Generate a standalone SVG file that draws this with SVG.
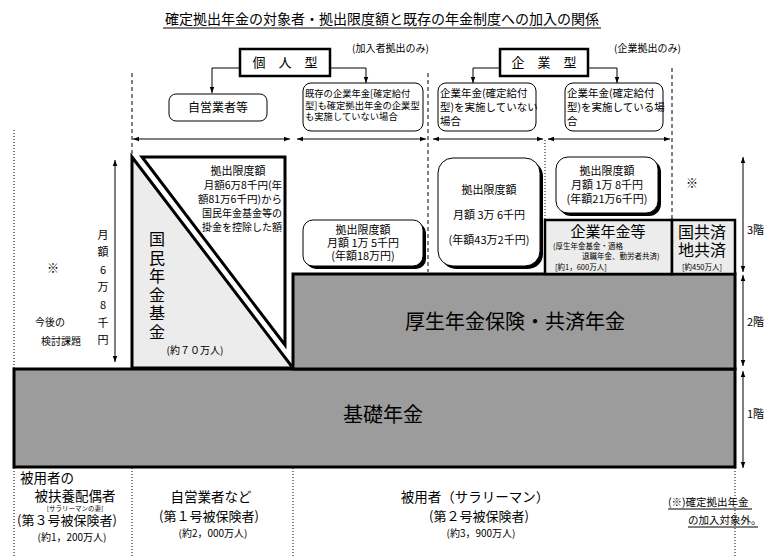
<svg xmlns="http://www.w3.org/2000/svg" width="767" height="557" viewBox="0 0 767 557">
<style>
text{font-family:"Noto Sans CJK JP","Noto Sans",sans-serif;fill:#000}
.c{text-anchor:middle}
.r{text-anchor:end}
.v{writing-mode:vertical-rl;text-orientation:upright}
.thin{fill:none;stroke:#000;stroke-width:1}
.dash{stroke:#000;stroke-width:1;stroke-dasharray:4,3;fill:none}
.dot{stroke:#000;stroke-width:1;stroke-dasharray:1,2;fill:none}
.arr{stroke:#000;stroke-width:1;fill:none;marker-end:url(#ah);marker-start:url(#ahs)}
.one{stroke:#000;stroke-width:1;fill:none;marker-end:url(#ah)}
.dark{fill:#9c9c9c;stroke:#000;stroke-width:3}
.light{fill:#ececec;stroke:#000;stroke-width:2.5}
.rb{fill:#fff;stroke:#000;stroke-width:1}
</style>
<defs>
<marker id="ah" viewBox="0 0 8 8" refX="8" refY="4" markerWidth="6" markerHeight="6" orient="auto" markerUnits="userSpaceOnUse"><path d="M0,1 L8,4 L0,7 Z" fill="#000"/></marker>
<marker id="ahs" viewBox="0 0 8 8" refX="0" refY="4" markerWidth="6" markerHeight="6" orient="auto" markerUnits="userSpaceOnUse"><path d="M8,1 L0,4 L8,7 Z" fill="#000"/></marker>
</defs>
<rect width="767" height="557" fill="#fff"/>

<g id="title">
<text x="382" y="24" class="c" font-size="14">確定拠出年金の対象者・拠出限度額と既存の年金制度への加入の関係</text>
<line x1="163" y1="28" x2="601" y2="28" stroke="#000" stroke-width="1"/>
</g>

<g id="guides">
<line class="dash" x1="132" y1="73" x2="132" y2="157"/>
<line class="dash" x1="428" y1="73" x2="428" y2="272"/>
<line class="dash" x1="672" y1="68" x2="672" y2="220"/>
<line class="dot" x1="545" y1="140" x2="545" y2="220"/>
<line class="dot" x1="14" y1="130" x2="14" y2="368"/>
<line class="dot" x1="14" y1="468" x2="14" y2="557"/>
<line class="dot" x1="132" y1="468" x2="132" y2="557"/>
<line class="dot" x1="293" y1="468" x2="293" y2="557"/>
<line class="dot" x1="735" y1="468" x2="735" y2="557"/>
</g>

<g id="kojin">
<rect x="240" y="49" width="90" height="27" fill="#fff" stroke="#000" stroke-width="2.5"/>
<text x="285" y="67" class="c" font-size="13">個　人　型</text>
</g>
<text x="352" y="52" font-size="10">(加入者拠出のみ)</text>
<g id="kigyo">
<rect x="500" y="49" width="88" height="27" fill="#fff" stroke="#000" stroke-width="2.5"/>
<text x="544" y="67" class="c" font-size="13">企　業　型</text>
</g>
<text x="614" y="52" font-size="10">(企業拠出のみ)</text>

<g id="jieigyo">
<rect class="rb" x="169" y="94" width="98" height="27" rx="7"/>
<text x="218" y="112" class="c" font-size="12">自営業者等</text>
</g>
<g id="kizon">
<rect class="rb" x="303" y="83" width="120" height="48" rx="8"/>
<text x="305" y="97" font-size="9.3">既存の企業年金[確定給付</text>
<text x="305" y="109" font-size="9.3">型]も確定拠出年金の企業型</text>
<text x="305" y="120" font-size="9.3">も実施していない場合</text>
</g>
<g id="nashi">
<rect class="rb" x="438" y="83" width="98" height="48" rx="8"/>
<text x="440" y="97" font-size="10.5">企業年金(確定給付</text>
<text x="440" y="111" font-size="10.5">型)を実施していない</text>
<text x="440" y="125" font-size="10.5">場合</text>
</g>
<g id="ari">
<rect class="rb" x="565" y="83" width="98" height="48" rx="8"/>
<text x="567" y="97" font-size="10.5">企業年金(確定給付</text>
<text x="567" y="111" font-size="10.5">型)を実施している場</text>
<text x="567" y="125" font-size="10.5">合</text>
</g>

<g id="left-note">
<text x="53" y="273" class="c" font-size="12">※</text>
<text x="50" y="326" class="c" font-size="10">今後の</text>
<text x="61" y="345" class="c" font-size="10">検討課題</text>
<text x="103" y="229" class="v" font-size="11" letter-spacing="6.6">月額6万8千円</text>
</g>

<g id="kokumin-kikin">
<polygon points="132,157 132,368 293,368" fill="#ececec" stroke="#000" stroke-width="3" stroke-linejoin="miter"/>
<text x="157" y="231" class="v" font-size="16" letter-spacing="2.5">国民年金基金</text>
<text x="195" y="354" class="c" font-size="10">(約７０万人)</text>
</g>
<g id="kojin-gendo">
<polygon points="142,157 285,157 285,345" fill="#fff" stroke="#000" stroke-width="3"/>
<text x="238" y="175" class="c" font-size="11">拠出限度額</text>
<text x="282" y="189" class="r" font-size="10.5">月額6万8千円(年</text>
<text x="282" y="203" class="r" font-size="10.5">額81万6千円)から</text>
<text x="282" y="217" class="r" font-size="10">国民年金基金等の</text>
<text x="282" y="231" class="r" font-size="10">掛金を控除した額</text>
</g>

<g id="gendo15">
<rect x="306" y="223" width="120" height="46" rx="10" fill="#000"/>
<rect class="rb" x="303" y="220" width="120" height="46" rx="10"/>
<text x="363" y="234" class="c" font-size="11">拠出限度額</text>
<text x="363" y="247" class="c" font-size="11">月額 1万 5千円</text>
<text x="363" y="260" class="c" font-size="11">(年額18万円)</text>
</g>
<g id="gendo36">
<rect x="441" y="161" width="102" height="108" rx="15" fill="#000"/>
<rect class="rb" x="438" y="158" width="102" height="108" rx="15"/>
<text x="489" y="194" class="c" font-size="11">拠出限度額</text>
<text x="489" y="219" class="c" font-size="11">月額 3万 6千円</text>
<text x="489" y="244" class="c" font-size="11">(年額43万2千円)</text>
</g>
<g id="gendo18">
<rect x="559" y="160" width="102" height="56" rx="12" fill="#000"/>
<rect class="rb" x="556" y="157" width="102" height="56" rx="12"/>
<text x="607" y="175" class="c" font-size="11">拠出限度額</text>
<text x="607" y="189" class="c" font-size="11">月額 1万 8千円</text>
<text x="607" y="203" class="c" font-size="11">(年額21万6千円)</text>
</g>
<text x="692" y="188" class="c" font-size="12">※</text>

<g id="kiso">
<rect class="dark" x="14" y="369" width="721" height="98"/>
<text x="383" y="422" class="c" font-size="20">基礎年金</text>
</g>
<g id="kosei">
<rect class="dark" x="293" y="274" width="442" height="95"/>
<text x="515" y="329" class="c" font-size="20">厚生年金保険・共済年金</text>
</g>
<g id="kigyo-nenkin">
<rect class="light" x="545" y="220" width="127" height="54"/>
<text x="608" y="237" class="c" font-size="15">企業年金等</text>
<text x="553" y="249" font-size="7.5">(厚生年金基金・適格</text>
<text x="582" y="259" font-size="7.5">退職年金、勤労者共済)</text>
<text x="555" y="270" font-size="7.5">[約1，600万人]</text>
</g>
<g id="kyosai">
<rect class="light" x="672" y="220" width="63" height="54"/>
<text x="702" y="238" class="c" font-size="16">国共済</text>
<text x="702" y="256" class="c" font-size="16">地共済</text>
<text x="702" y="270" class="c" font-size="7.5">[約450万人]</text>
</g>

<g id="floors">
<text x="747" y="234" font-size="11">3階</text>
<text x="747" y="326" font-size="11">2階</text>
<text x="747" y="418" font-size="11">1階</text>
</g>

<g id="bottom">
<text x="20" y="483" font-size="13.5">被用者の</text>
<text x="75" y="501" class="c" font-size="13.5">被扶養配偶者</text>
<text x="75" y="511" class="c" font-size="6.5">[サラリーマンの妻]</text>
<text x="67" y="525" class="c" font-size="13">(第３号被保険者)</text>
<text x="72" y="541" class="c" font-size="10">(約1，200万人)</text>
<text x="211" y="502" class="c" font-size="13.5">自営業者など</text>
<text x="209" y="521" class="c" font-size="13">(第１号被保険者)</text>
<text x="213" y="537" class="c" font-size="10">(約2，000万人)</text>
<text x="475" y="502" class="c" font-size="13.5">被用者（サラリーマン）</text>
<text x="479" y="521" class="c" font-size="13">(第２号被保険者)</text>
<text x="481" y="537" class="c" font-size="10">(約3，900万人)</text>
<text x="668" y="506" font-size="10.5">(※)確定拠出年金</text>
<line x1="668" y1="509" x2="752" y2="509" stroke="#000" stroke-width="1"/>
<text x="688" y="524" font-size="10.5">の加入対象外。</text>
<line x1="688" y1="527" x2="758" y2="527" stroke="#000" stroke-width="1"/>
</g>

<g id="connectors">
<polyline class="one" points="240,68 212,68 212,93"/>
<polyline class="one" points="330,68 366,68 366,83"/>
<polyline class="one" points="500,68 473,68 473,83"/>
<polyline class="one" points="588,68 617,68 617,83"/>
<line class="arr" x1="133" y1="139" x2="290" y2="139"/>
<line class="arr" x1="297" y1="139" x2="426" y2="139"/>
<line class="arr" x1="433" y1="139" x2="543" y2="139"/>
<line class="arr" x1="548" y1="139" x2="670" y2="139"/>
<line class="arr" x1="115" y1="160" x2="115" y2="362"/>
<line class="arr" x1="743" y1="157" x2="743" y2="272"/>
<line class="arr" x1="743" y1="275" x2="743" y2="366"/>
<line class="arr" x1="743" y1="371" x2="743" y2="468"/>
</g>
</svg>
